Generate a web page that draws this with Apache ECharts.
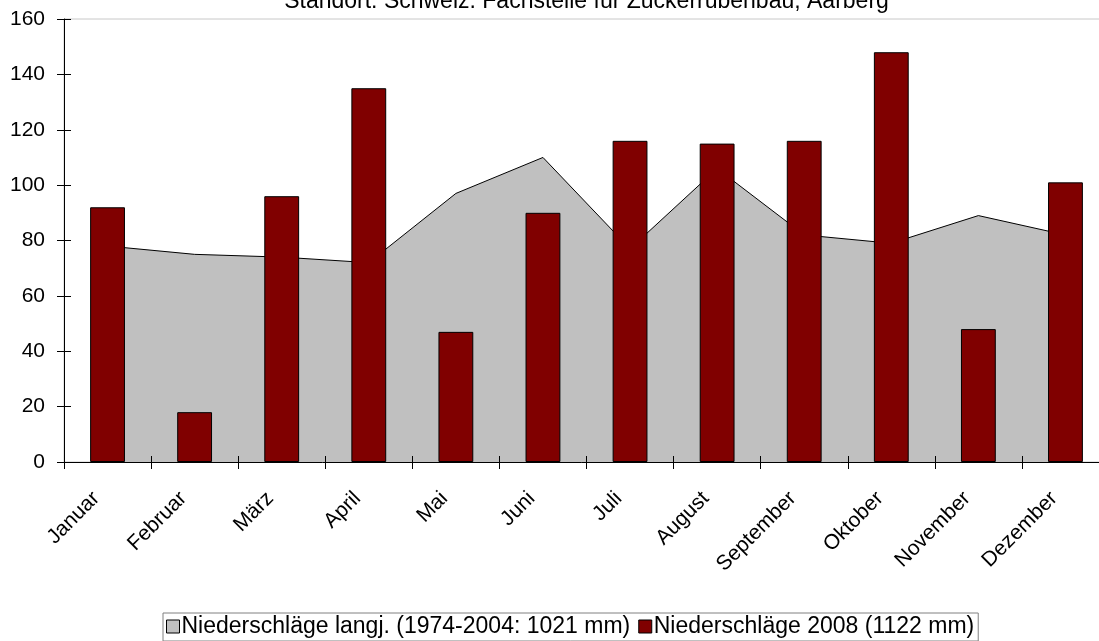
<!DOCTYPE html>
<html>
<head>
<meta charset="utf-8">
<script src="https://cdn.jsdelivr.net/npm/echarts@6/dist/echarts.min.js"></script>
<style>
html,body{margin:0;padding:0;background:#fff;}
#chart{width:1099px;height:641px;}
</style>
</head>
<body>
<div id="chart"></div>
<script>
const months = ['Januar','Februar','März','April','Mai','Juni','Juli','August','September','Oktober','November','Dezember'];
const langjaehrig = [78, 75, 74, 72, 97, 110, 77, 106, 82, 79, 89, 82];
const jahr2008 = [92, 18, 96, 135, 47, 90, 116, 115, 116, 148, 48, 101];
const yTicks = [0, 20, 40, 60, 80, 100, 120, 140, 160];
const nameLang = 'Niederschläge langj. (1974-2004: 1021 mm)';
const name2008 = 'Niederschläge 2008 (1122 mm)';
const titleText = 'Standort: Schweiz. Fachstelle für Zuckerrübenbau, Aarberg';

const FONT = 'Liberation Sans, Arial, sans-serif';
const chart = echarts.init(document.getElementById('chart'), null, {renderer: 'canvas'});
const gridCenter = 64 + 1045 / 2;
chart.setOption({
  animation: false,
  backgroundColor: '#ffffff',
  textStyle: {fontFamily: FONT},
  graphic: [{
    type: 'text', x: gridCenter, y: 13,
    style: {text: titleText, font: '23px ' + FONT, fill: '#000', textAlign: 'center', textVerticalAlign: 'bottom'}
  }],
  grid: {left: 64, top: 19, width: 1045, height: 443, outerBoundsMode: 'none', containLabel: false,
    show: true, borderColor: '#c8c8c8', borderWidth: 1, backgroundColor: 'transparent'},
  legend: {
    left: 163, top: 613,
    orient: 'horizontal',
    icon: 'rect', itemWidth: 13, itemHeight: 13, itemGap: 8,
    padding: [2, 4, 3, 3],
    borderColor: '#808080', borderWidth: 1,
    textStyle: {fontFamily: FONT, fontSize: 23, color: '#000', padding: [0, 0, 0, -3]},
    data: [
      {name: nameLang, itemStyle: {color: '#c0c0c0', borderColor: '#000', borderWidth: 1}},
      {name: name2008, itemStyle: {color: '#800000', borderColor: '#000', borderWidth: 1}}
    ]
  },
  xAxis: [{
    type: 'category', data: months, boundaryGap: true,
    axisLine: {show: true, lineStyle: {color: '#000', width: 1}},
    axisTick: {show: true, inside: false, length: 7, alignWithLabel: false, lineStyle: {color: '#000'}},
    axisLabel: {rotate: 45, margin: 22, fontSize: 21, color: '#000', fontFamily: FONT, interval: 0,
      padding: [0, 16, 0, 0], hideOverlap: false},
    splitLine: {show: false}
  }, {
    type: 'category', data: months, boundaryGap: true, position: 'bottom', z: 10,
    axisLine: {show: false},
    axisTick: {show: true, inside: true, length: 6, lineStyle: {color: '#000'}},
    axisLabel: {show: false}, splitLine: {show: false}
  }],
  yAxis: [{
    type: 'value', min: 0, max: 160, interval: 20,
    axisLine: {show: true, lineStyle: {color: '#000', width: 1}},
    axisTick: {show: true, inside: false, length: 7, lineStyle: {color: '#000'}},
    axisLabel: {fontSize: 21, color: '#000', margin: 19, fontFamily: FONT,
      formatter: v => yTicks.includes(v) ? String(v) : ''},
    splitLine: {show: false}
  }, {
    type: 'value', min: 0, max: 160, interval: 20, position: 'left', z: 10,
    axisLine: {show: false},
    axisTick: {show: true, inside: true, length: 7, lineStyle: {color: '#000'}},
    axisLabel: {show: false}, splitLine: {show: false}
  }],
  series: [{
    name: nameLang, type: 'line', data: langjaehrig,
    xAxisIndex: 0, yAxisIndex: 0,
    symbol: 'none', smooth: false,
    itemStyle: {color: '#c0c0c0'},
    lineStyle: {color: '#000', width: 1},
    areaStyle: {color: '#c0c0c0', opacity: 1},
    z: 2
  }, {
    name: name2008, type: 'bar', data: jahr2008,
    xAxisIndex: 0, yAxisIndex: 0,
    barWidth: '40%',
    itemStyle: {color: '#800000', borderColor: '#000', borderWidth: 1},
    z: 3
  }]
});
</script>
</body>
</html>
